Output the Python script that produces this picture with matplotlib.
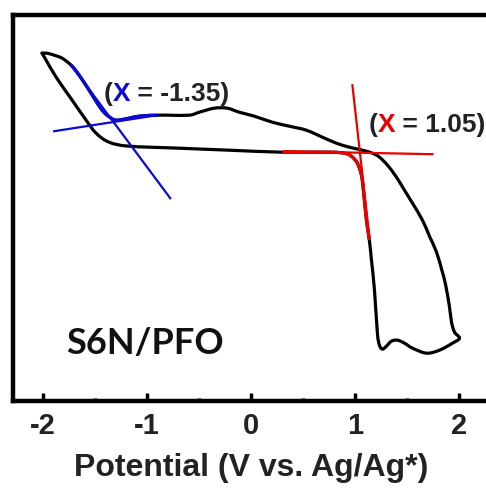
import matplotlib
matplotlib.use('Agg')
import numpy as np
import matplotlib.pyplot as plt
from matplotlib.path import Path
from matplotlib.patches import PathPatch
from matplotlib.offsetbox import TextArea, HPacker, AnnotationBbox
from matplotlib.ticker import MultipleLocator

plt.rcParams['axes.unicode_minus'] = False

# cyclic voltammogram, potential (V) vs current (a.u.)
# path: tip -> lower branch -> bottom -> right branch -> upper branch -> tip
potential = [-2.007, -1.968, -1.872, -1.718, -1.584, -1.488, -1.363, -1.170, -0.689,
             -0.209, 0.301, 0.753, 0.897, 0.964, 1.022, 1.061, 1.080, 1.109, 1.137,
             1.157, 1.186, 1.214, 1.234, 1.262, 1.301, 1.349, 1.407, 1.474, 1.551,
             1.686, 1.811, 1.936, 2.003,
             1.955, 1.926, 1.907, 1.870, 1.836, 1.782, 1.714, 1.647, 1.551, 1.474,
             1.397, 1.311, 1.234, 1.166, 1.070, 0.945, 0.820, 0.686, 0.532, 0.368,
             0.205, 0.032, -0.113, -0.228, -0.353, -0.497, -0.593, -0.786, -0.901,
             -1.074, -1.218, -1.295, -1.343, -1.430, -1.555, -1.651, -1.728, -1.815,
             -1.891, -1.959, -2.007]
current = [3.48, 3.41, 3.24, 3.01, 2.81, 2.68, 2.59, 2.55, 2.53,
           2.51, 2.49, 2.49, 2.48, 2.45, 2.38, 2.26, 2.11, 1.81, 1.61,
           1.41, 1.11, 0.68, 0.56, 0.52, 0.55, 0.60, 0.61, 0.58, 0.53,
           0.48, 0.51, 0.58, 0.63,
           0.69, 0.79, 0.94, 1.16, 1.30, 1.49, 1.65, 1.81, 1.98, 2.11,
           2.24, 2.36, 2.44, 2.48, 2.51, 2.54, 2.58, 2.64, 2.71, 2.75,
           2.79, 2.85, 2.89, 2.93, 2.93, 2.89, 2.86, 2.86, 2.86,
           2.85, 2.82, 2.81, 2.83, 2.91, 3.11, 3.26, 3.36, 3.43,
           3.46, 3.48, 3.48]

# tangent lines used for the onset potentials
red_flat_x, red_flat_y = [0.320, 1.743], [2.50, 2.47]
red_steep_x, red_steep_y = [0.974, 1.137], [3.16, 1.64]
blue_flat_x, blue_flat_y = [-1.891, -0.901], [2.70, 2.86]
blue_steep_x, blue_steep_y = [-1.728, -0.776], [3.36, 2.03]

onset_red = '1.05'
onset_blue = '-1.35'
sample = 'S6N/PFO'

blue = '#0a0ad2'
red = '#e60000'


def smooth_path(xs, ys, i0=0, i1=None):
    # Catmull-Rom through the read points, drawn as bezier curves
    pts = np.column_stack([xs, ys])
    n = len(pts)
    if i1 is None:
        i1 = n - 1
    verts = [pts[i0]]
    codes = [Path.MOVETO]
    for i in range(i0, i1):
        p0 = pts[max(i - 1, 0)]
        p1 = pts[i]
        p2 = pts[i + 1]
        p3 = pts[min(i + 2, n - 1)]
        verts += [p1 + (p2 - p0) / 6, p2 - (p3 - p1) / 6, p2]
        codes += [Path.CURVE4] * 3
    return Path(verts, codes)


fig = plt.figure(figsize=(4.86, 4.91), dpi=100)
ax = fig.add_axes([0.026, 0.183, 0.981, 0.786])

ax.add_patch(PathPatch(smooth_path(potential, current), fill=False, edgecolor='black',
                       lw=2.3, capstyle='round', joinstyle='round', zorder=2))

# coloured parts of the curve (segments the tangents were fitted to)
ax.add_patch(PathPatch(smooth_path(potential, current, 10, 18), fill=False,
                       edgecolor=red, lw=2.3, zorder=3))
ax.add_patch(PathPatch(smooth_path(potential, current, 61, 69), fill=False,
                       edgecolor=blue, lw=2.3, zorder=3))

ax.plot(red_flat_x, red_flat_y, color=red, lw=1.6, zorder=4)
ax.plot(red_steep_x, red_steep_y, color=red, lw=1.6, zorder=4)
ax.plot(blue_flat_x, blue_flat_y, color=blue, lw=1.6, zorder=4)
ax.plot(blue_steep_x, blue_steep_y, color=blue, lw=1.6, zorder=4)


def onset_label(xy, value, col):
    tprops = dict(fontsize=19, fontweight='bold', family='Liberation Sans', color='#222222')
    parts = [TextArea('(', textprops=tprops),
             TextArea('X', textprops=dict(tprops, color=col)),
             TextArea(' = ' + value + ')', textprops=tprops)]
    box = HPacker(children=parts, align='baseline', pad=0, sep=0)
    ab = AnnotationBbox(box, xy, frameon=False, box_alignment=(0.5, 0.5), zorder=5)
    ax.add_artist(ab)


onset_label((-0.81, 3.07), onset_blue, blue)
onset_label((1.69, 2.76), onset_red, red)

ax.text(-1.02, 0.58, sample, fontsize=26, fontweight='bold', family='Lato',
        color='#111111', ha='center', va='center')

ax.set_xlim(-2.29, 2.29)
ax.set_ylim(0, 3.86)
ax.xaxis.set_major_locator(MultipleLocator(1))
ax.xaxis.set_minor_locator(MultipleLocator(0.5))
ax.tick_params(axis='x', which='major', direction='in', length=6, width=2.5,
               pad=8, labelsize=21)
ax.tick_params(axis='x', which='minor', direction='in', length=2.5, width=2.5)
ax.set_yticks([])
for lab in ax.get_xticklabels():
    lab.set_fontweight('bold')
    lab.set_family('Liberation Sans')
    lab.set_color('#222222')

for side in ['left', 'bottom', 'top']:
    ax.spines[side].set_linewidth(3.2)
ax.spines['right'].set_visible(False)

ax.set_xlabel('Potential (V vs. Ag/Ag*)', fontsize=23, fontweight='bold',
              family='Liberation Sans', color='#222222', labelpad=9)

fig.savefig('out.png', dpi=100)
